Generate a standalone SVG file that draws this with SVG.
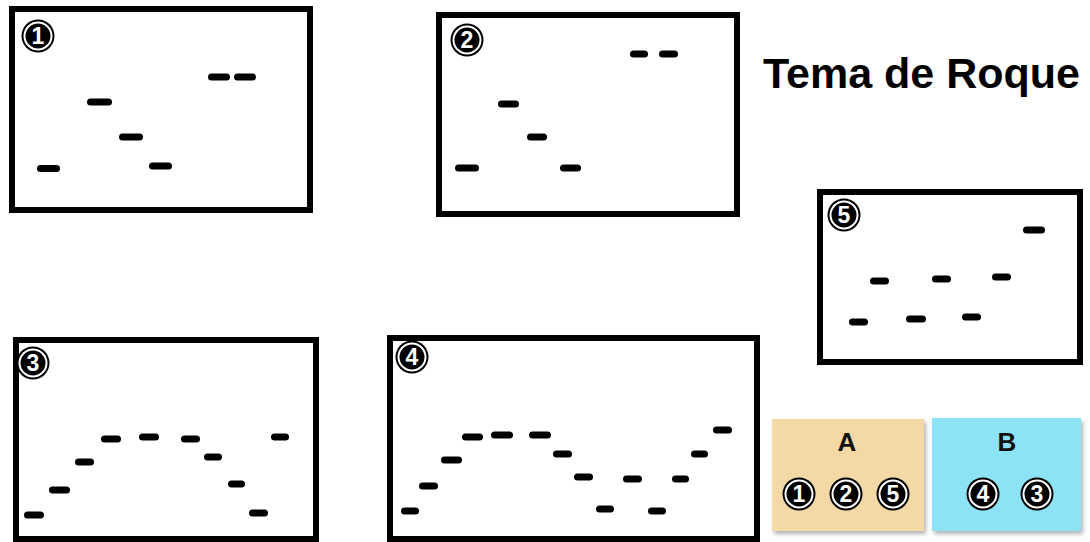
<svg xmlns="http://www.w3.org/2000/svg" width="1090" height="542" viewBox="0 0 1090 542">
<style>
.frame{fill:#fff;stroke:#000;stroke-width:6}
.n{stroke:#000;stroke-width:7;stroke-linecap:round}
.num{font-family:"Liberation Sans",Arial,sans-serif;font-weight:bold;font-size:23px;fill:#fff;text-anchor:middle}
.title{font-family:"Liberation Sans",Arial,sans-serif;font-weight:bold;font-size:43px;fill:#000}
.lbl{font-family:"Liberation Sans",Arial,sans-serif;font-weight:bold;font-size:26px;fill:#111;text-anchor:middle}
</style>
<defs>
<g id="disc">
<circle r="16.5" fill="#000"/>
<circle r="13.5" fill="none" stroke="#fff" stroke-width="2"/>
</g>
<filter id="sh" x="-10%" y="-10%" width="125%" height="130%">
<feDropShadow dx="2" dy="3" stdDeviation="2" flood-color="#000" flood-opacity="0.3"/>
</filter>
</defs>
<rect width="1090" height="542" fill="#fff"/>

<g id="box1">
<rect class="frame" x="12" y="9" width="298" height="201"/>
<use href="#disc" x="38" y="36"/><text class="num" x="38" y="44">1</text>
<line class="n" x1="40.5" y1="168.5" x2="56.5" y2="168.5"/>
<line class="n" x1="90.5" y1="102" x2="108.5" y2="102"/>
<line class="n" x1="122.5" y1="137" x2="139.5" y2="137"/>
<line class="n" x1="152.5" y1="166" x2="168.5" y2="166"/>
<line class="n" x1="211.5" y1="77" x2="226.5" y2="77"/>
<line class="n" x1="237.5" y1="77" x2="252.5" y2="77"/>
</g>

<g id="box2">
<rect class="frame" x="439" y="15" width="298" height="199"/>
<use href="#disc" x="467" y="40"/><text class="num" x="467" y="48">2</text>
<line class="n" x1="458.5" y1="168" x2="475.5" y2="168"/>
<line class="n" x1="501.5" y1="104" x2="515.5" y2="104"/>
<line class="n" x1="530.5" y1="137" x2="543.5" y2="137"/>
<line class="n" x1="563.5" y1="168" x2="577.5" y2="168"/>
<line class="n" x1="633.5" y1="54" x2="644.5" y2="54"/>
<line class="n" x1="662.5" y1="54" x2="674.5" y2="54"/>
</g>

<text class="title" x="763" y="88">Tema de Roque</text>

<g id="box5">
<rect class="frame" x="820" y="192" width="260" height="170"/>
<use href="#disc" x="844" y="215"/><text class="num" x="844" y="223">5</text>
<line class="n" x1="1026.5" y1="230" x2="1041.5" y2="230"/>
<line class="n" x1="873.5" y1="281" x2="885.5" y2="281"/>
<line class="n" x1="935.5" y1="279" x2="947.5" y2="279"/>
<line class="n" x1="995.5" y1="277" x2="1007.5" y2="277"/>
<line class="n" x1="852.5" y1="322" x2="864.5" y2="322"/>
<line class="n" x1="909.5" y1="319" x2="922.5" y2="319"/>
<line class="n" x1="965.5" y1="317" x2="977.5" y2="317"/>
</g>

<g id="box3">
<rect class="frame" x="16" y="340" width="300" height="199"/>
<use href="#disc" x="33" y="363"/><text class="num" x="33" y="371">3</text>
<line class="n" x1="27.5" y1="515" x2="40.5" y2="515"/>
<line class="n" x1="52.5" y1="490" x2="66.5" y2="490"/>
<line class="n" x1="78.5" y1="462" x2="90.5" y2="462"/>
<line class="n" x1="104.5" y1="439" x2="117.5" y2="439"/>
<line class="n" x1="142.5" y1="437" x2="155.5" y2="437"/>
<line class="n" x1="184.5" y1="439" x2="196.5" y2="439"/>
<line class="n" x1="207.5" y1="457" x2="218.5" y2="457"/>
<line class="n" x1="231.5" y1="484" x2="241.5" y2="484"/>
<line class="n" x1="252.5" y1="513" x2="264.5" y2="513"/>
<line class="n" x1="274.5" y1="437" x2="285.5" y2="437"/>
</g>

<g id="box4">
<rect class="frame" x="390" y="338" width="367" height="201"/>
<use href="#disc" x="412" y="357"/><text class="num" x="412" y="365">4</text>
<line class="n" x1="404.5" y1="511" x2="415.5" y2="511"/>
<line class="n" x1="422.5" y1="486" x2="434.5" y2="486"/>
<line class="n" x1="444.5" y1="460" x2="458.5" y2="460"/>
<line class="n" x1="465.5" y1="437" x2="479.5" y2="437"/>
<line class="n" x1="494.5" y1="435" x2="509.5" y2="435"/>
<line class="n" x1="532.5" y1="435" x2="547.5" y2="435"/>
<line class="n" x1="556.5" y1="454" x2="568.5" y2="454"/>
<line class="n" x1="577.5" y1="477" x2="589.5" y2="477"/>
<line class="n" x1="599.5" y1="509" x2="610.5" y2="509"/>
<line class="n" x1="626.5" y1="479" x2="638.5" y2="479"/>
<line class="n" x1="651.5" y1="511" x2="662.5" y2="511"/>
<line class="n" x1="675.5" y1="479" x2="685.5" y2="479"/>
<line class="n" x1="694.5" y1="454" x2="704.5" y2="454"/>
<line class="n" x1="716.5" y1="430" x2="728.5" y2="430"/>
</g>

<g id="groupA">
<rect x="772" y="419" width="152" height="112" fill="#f4d8a5" filter="url(#sh)"/>
<text class="lbl" x="847" y="451">A</text>
<use href="#disc" x="799" y="494"/><text class="num" x="799" y="502">1</text>
<use href="#disc" x="846" y="494"/><text class="num" x="846" y="502">2</text>
<use href="#disc" x="893" y="494"/><text class="num" x="893" y="502">5</text>
</g>

<g id="groupB">
<rect x="932" y="418" width="149" height="113" fill="#8de3f6" filter="url(#sh)"/>
<text class="lbl" x="1007" y="451">B</text>
<use href="#disc" x="983" y="494"/><text class="num" x="983" y="502">4</text>
<use href="#disc" x="1037" y="494"/><text class="num" x="1037" y="502">3</text>
</g>
</svg>
